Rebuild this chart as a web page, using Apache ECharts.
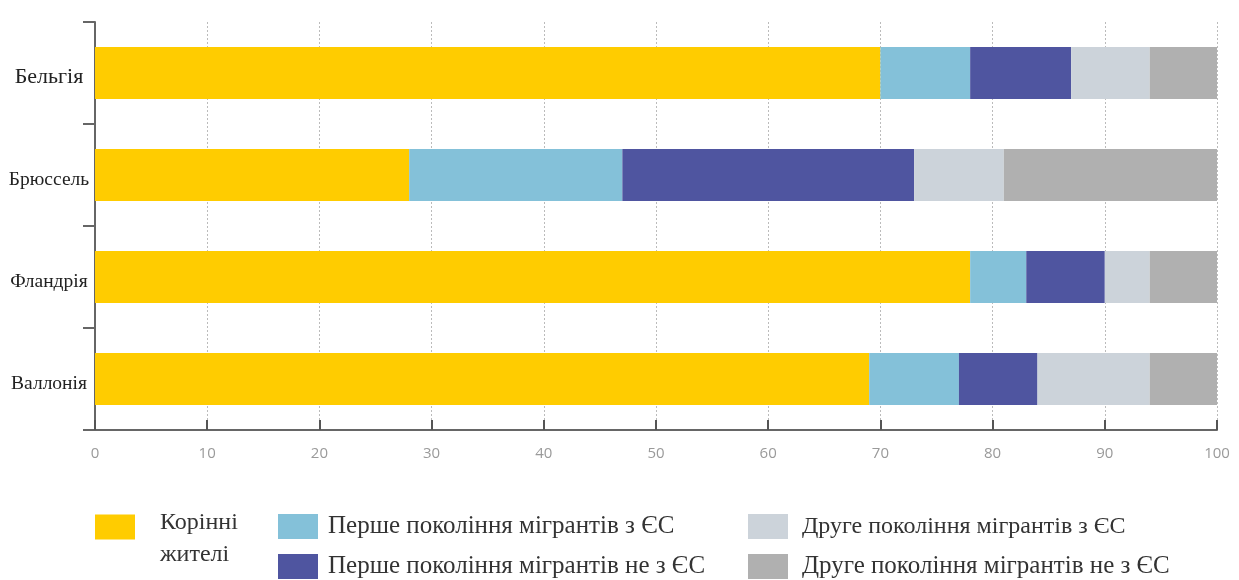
<!DOCTYPE html>
<html>
<head>
<meta charset="utf-8">
<script src="https://cdn.jsdelivr.net/npm/echarts@6/dist/echarts.min.js"></script>
<style>html,body{margin:0;padding:0;background:#fff}#c{width:1239px;height:580px}</style>
</head>
<body>
<div id="c"></div>
<script>
const categories = ['Бельгія', 'Брюссель', 'Фландрія', 'Валлонія'];
const seriesNames = ['Корінні жителі', 'Перше покоління мігрантів з ЄС', 'Перше покоління мігрантів не з ЄС', 'Друге покоління мігрантів з ЄС', 'Друге покоління мігрантів не з ЄС'];
const native = [70, 28, 78, 69];
const firstEU = [8, 19, 5, 8];
const firstNonEU = [9, 26, 7, 7];
const secondEU = [7, 8, 4, 10];
const secondNonEU = [6, 19, 6, 6];
const xTicks = [0, 10, 20, 30, 40, 50, 60, 70, 80, 90, 100];
const colors = ['#FFCC00', '#84C1D9', '#4F55A0', '#CCD3DA', '#B0B0B0'];

const values = [native, firstEU, firstNonEU, secondEU, secondNonEU];
const chart = echarts.init(document.getElementById('c'));
const serif = 'Liberation Serif';
function leg(i, left, top, padLeft, size, extra) {
  return Object.assign({
    data: [seriesNames[i]], left: left, top: top, padding: 0,
    orient: 'vertical', icon: 'rect', itemWidth: 40, itemHeight: 25,
    selectedMode: false,
    textStyle: { fontFamily: serif, fontSize: size, color: '#333', padding: [0, 0, 0, padLeft] }
  }, extra || {});
}
chart.setOption({
  animation: false,
  color: colors,
  grid: { left: 95, right: 22, top: 22, bottom: 150 },
  xAxis: {
    type: 'value', min: xTicks[0], max: xTicks[xTicks.length - 1], interval: 10,
    axisLine: { show: true, lineStyle: { color: '#666', width: 2 } },
    axisTick: { show: true, inside: true, length: 10, lineStyle: { color: '#555', width: 2 } },
    axisLabel: { color: '#9a9a9a', fontFamily: 'Open Sans', fontSize: 15, margin: 16 },
    splitLine: { show: true, lineStyle: { color: '#bbb', type: [2, 2], width: 1 } }
  },
  yAxis: {
    type: 'category', data: categories, inverse: true,
    axisLine: { show: true, lineStyle: { color: '#666', width: 2 } },
    axisTick: { show: true, length: 12, lineStyle: { color: '#666', width: 2 } },
    axisLabel: {
      color: '#222', fontFamily: serif, align: 'center', margin: 46,
      formatter: function (v, i) { return (i === 0 ? '{b|' : '{n|') + v + '}'; },
      rich: {
        b: { fontFamily: serif, fontSize: 22, color: '#222', padding: [8, 0, 0, 0] },
        n: { fontFamily: serif, fontSize: 19.5, color: '#222', padding: [10, 0, 0, 0] }
      }
    }
  },
  legend: [
    leg(0, 95, 490, 20, 24, {
      formatter: function () { return '{s| }\n{a|Корінні}\n{a|жителі}'; },
      textStyle: {
        fontFamily: serif, fontSize: 24, color: '#333', padding: [0, 0, 0, 20],
        rich: {
          s: { fontSize: 10, lineHeight: 24 },
          a: { fontFamily: serif, fontSize: 24, color: '#333', lineHeight: 32 }
        }
      }
    }),
    leg(1, 278, 514, 5, 25),
    leg(2, 278, 554, 5, 25),
    leg(3, 748, 514, 9, 24),
    leg(4, 748, 554, 9, 25)
  ],
  series: seriesNames.map(function (n, i) {
    return {
      name: n, type: 'bar', stack: 'total', data: values[i], barWidth: 52,
      itemStyle: { color: colors[i] }, emphasis: { disabled: true }
    };
  })
});
</script>
</body>
</html>
